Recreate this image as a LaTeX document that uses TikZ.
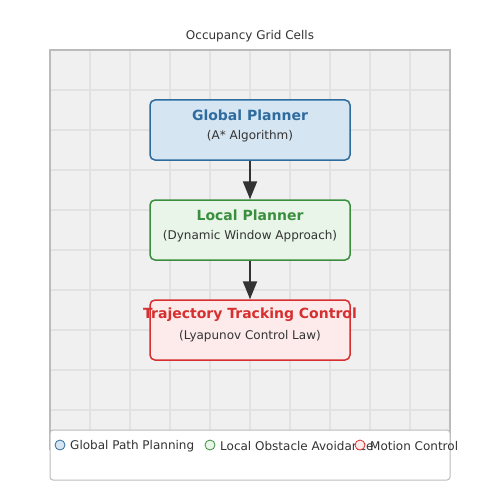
\documentclass[tikz,border=0pt]{standalone}
\usepackage{fontspec}
\setmainfont{DejaVu Sans}
\usepackage{tikz}
\usetikzlibrary{arrows.meta}

\definecolor{txtgray}{HTML}{333333}
\definecolor{gridfill}{HTML}{F0F0F0}
\definecolor{gridline}{HTML}{E2E2E2}
\definecolor{frame}{HTML}{BBBBBB}
\definecolor{gblue}{HTML}{2E6B9E}
\definecolor{gbluefill}{HTML}{D5E5F2}
\definecolor{lgreen}{HTML}{3A8F3E}
\definecolor{lgreenfill}{HTML}{E8F5E8}
\definecolor{tred}{HTML}{D62F2F}
\definecolor{tredfill}{HTML}{FDEBEC}

\begin{document}
\begin{tikzpicture}[x=1pt, y=-1pt,
    box/.style={draw, line width=1.5pt, rounded corners=5pt, minimum width=200pt, minimum height=60pt},
    ttl/.style={font=\fontsize{14pt}{16pt}\selectfont\bfseries},
    sub/.style={font=\fontsize{12pt}{14pt}\selectfont, text=txtgray},
    flow/.style={-{Triangle[width=14pt,length=18pt]}, line width=2pt, txtgray},
    dot/.style={circle, draw, line width=0.8pt, minimum size=10pt, inner sep=0pt},
    lbl/.style={font=\fontsize{12pt}{14pt}\selectfont, text=txtgray, anchor=west, inner sep=0pt}]
    \useasboundingbox (0,0) rectangle (500,500);

    % Occupancy grid
    \node[sub] (title) at (250,36) {Occupancy Grid Cells};
    \fill[gridfill] (50,50) rectangle (450,450);
    \foreach \k in {90,130,...,410} {
        \draw[gridline, line width=1.2pt] (\k,50) -- (\k,450);
        \draw[gridline, line width=1.2pt] (50,\k) -- (450,\k);
    }
    \draw[frame, line width=1.5pt] (50,450) -- (50,50) -- (450,50) -- (450,450);

    % Planner stack
    \node[box, draw=gblue, fill=gbluefill] (global) at (250,130) {};
    \node[ttl, text=gblue] (globalt) at (250,115) {Global Planner};
    \node[sub] (globals) at (250,136) {(A* Algorithm)};

    \node[box, draw=lgreen, fill=lgreenfill] (local) at (250,230) {};
    \node[ttl, text=lgreen] (localt) at (250,215) {Local Planner};
    \node[sub] (locals) at (250,236) {(Dynamic Window Approach)};

    \node[box, draw=tred, fill=tredfill] (track) at (250,330) {};
    \node[ttl, text=tred] (trackt) at (250,315) {Trajectory Tracking Control};
    \node[sub] (tracks) at (250,336) {(Lyapunov Control Law)};

    \draw[flow] (global.south) -- (local.north);
    \draw[flow] (local.south) -- (track.north);

    % Legend
    \draw[frame, line width=1pt, fill=white, rounded corners=3pt] (50,430) rectangle (450,480);
    \node[dot, draw=gblue, fill=gbluefill] (lg1) at (60,445) {};
    \node[lbl] (lt1) at (70,446) {Global Path Planning};
    \node[dot, draw=lgreen, fill=lgreenfill] (lg2) at (210,445) {};
    \node[lbl] (lt2) at (220,446) {Local Obstacle Avoidance};
    \node[dot, draw=tred, fill=tredfill] (lg3) at (360,445) {};
    \node[lbl] (lt3) at (370,446) {Motion Control};
\end{tikzpicture}
\end{document}
